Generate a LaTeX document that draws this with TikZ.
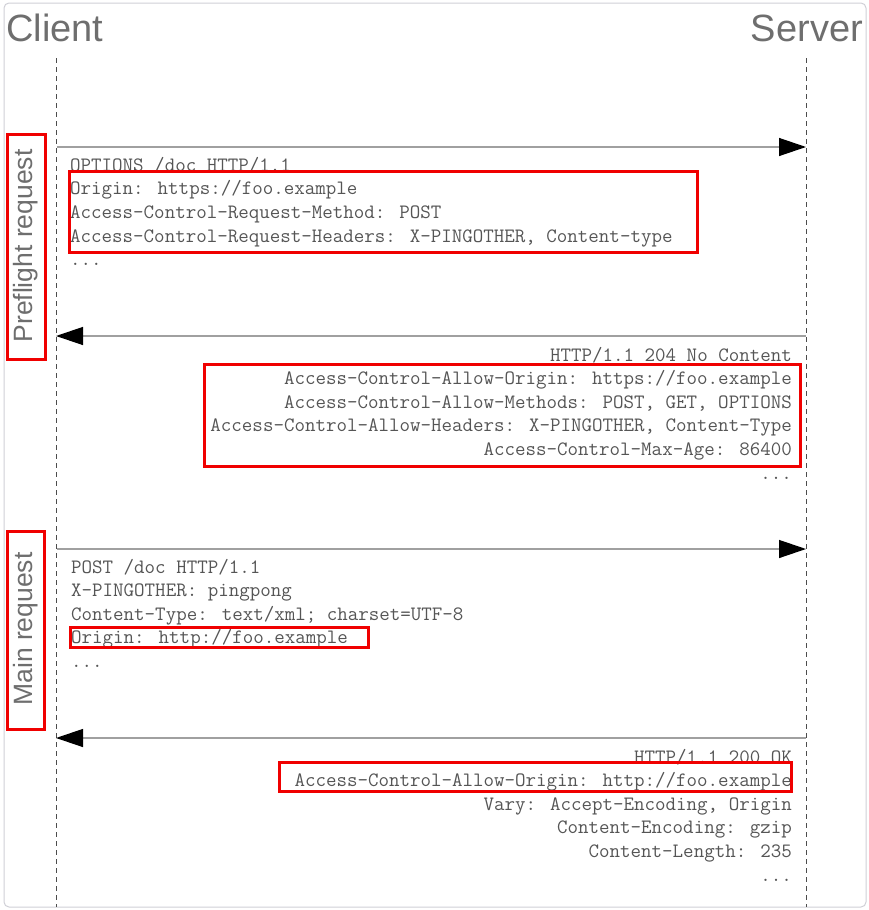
\documentclass[tikz,border=0pt]{standalone}
\usepackage{fontspec}
\newfontfamily\headfont{Liberation Sans}
\usetikzlibrary{arrows.meta}
\definecolor{headgray}{HTML}{6E6E6E}
\definecolor{txtgray}{HTML}{555555}
\definecolor{linegray}{HTML}{A0A0A0}
\definecolor{framegray}{HTML}{CFCFD6}
\definecolor{hlred}{HTML}{F00000}
\tikzset{
  head/.style={font=\headfont\fontsize{38}{40}\selectfont, text=headgray, inner sep=0pt},
  side/.style={font=\headfont\fontsize{26.5}{28}\selectfont, text=headgray, inner sep=0pt, rotate=90, anchor=base},
  mono/.style={font=\ttfamily\fontsize{20.4}{22}\selectfont, text=txtgray, inner sep=0pt},
  monol/.style={mono, anchor=base west},
  monor/.style={mono, anchor=base east},
  lifeline/.style={draw=black!70, line width=0.9pt, dash pattern=on 5pt off 4pt},
  msg/.style={draw=linegray, line width=1.3pt, -{Triangle[length=27pt,width=18pt,color=black]}},
  hl/.style={draw=hlred, line width=3pt},
}
\begin{document}
\begin{tikzpicture}[x=1pt,y=-1pt]
\useasboundingbox (0,0) rectangle (869,910);
\draw[framegray, line width=1pt, rounded corners=5pt] (4,3) rectangle (866,907);

\node[head, anchor=base west] (client) at (6,41) {Client};
\node[head, anchor=base east] (server) at (863,41) {Server};

\coordinate (ctop) at (56,58); \coordinate (cbot) at (56,907);
\coordinate (stop) at (806,58); \coordinate (sbot) at (806,907);
\draw[lifeline] (ctop) -- (cbot);
\draw[lifeline] (stop) -- (sbot);

% messages
\coordinate (c1) at (57,147); \coordinate (s1) at (806,147);
\coordinate (c2) at (56,336); \coordinate (s2) at (806,336);
\coordinate (c3) at (57,549); \coordinate (s3) at (806,549);
\coordinate (c4) at (56,738); \coordinate (s4) at (806,738);
\draw[msg] (c1) -- (s1);
\draw[msg] (s2) -- (c2);
\draw[msg] (c3) -- (s3);
\draw[msg] (s4) -- (c4);

% preflight request text
\node[monol] (pa1) at (70,171) {OPTIONS /doc HTTP/1.1};
\node[monol] (pa2) at (70,194.7) {Origin: https://foo.example};
\node[monol] (pa3) at (70,218.4) {Access-Control-Request-Method: POST};
\node[monol] (pa4) at (70,242.1) {Access-Control-Request-Headers: X-PINGOTHER, Content-type};
\node[monol] (pa5) at (70,265.8) {...};

% preflight response text
\node[monor] (pb1) at (792,361) {HTTP/1.1 204 No Content};
\node[monor] (pb2) at (792,384.6) {Access-Control-Allow-Origin: https://foo.example};
\node[monor] (pb3) at (792,408.2) {Access-Control-Allow-Methods: POST, GET, OPTIONS};
\node[monor] (pb4) at (792,431.8) {Access-Control-Allow-Headers: X-PINGOTHER, Content-Type};
\node[monor] (pb5) at (792,455.4) {Access-Control-Max-Age: 86400};
\node[monor] (pb6) at (792,479) {...};

% main request text
\node[monol] (ma1) at (71,573) {POST /doc HTTP/1.1};
\node[monol] (ma2) at (71,596.6) {X-PINGOTHER: pingpong};
\node[monol] (ma3) at (71,620.2) {Content-Type: text/xml; charset=UTF-8};
\node[monol] (ma4) at (71,643.8) {Origin: http://foo.example};
\node[monol] (ma5) at (71,667.4) {...};

% main response text
\node[monor] (mb1) at (792,763) {HTTP/1.1 200 OK};
\node[monor] (mb2) at (792,786.6) {Access-Control-Allow-Origin: http://foo.example};
\node[monor] (mb3) at (792,810.2) {Vary: Accept-Encoding, Origin};
\node[monor] (mb4) at (792,833.8) {Content-Encoding: gzip};
\node[monor] (mb5) at (792,857.4) {Content-Length: 235};
\node[monor] (mb6) at (792,881) {...};

% side labels
\node[side] (pre) at (32,246) {Preflight request};
\node[side] (main) at (32,629) {Main request};

% red highlight boxes
\draw[hl] (7,134) rectangle (45,359);
\draw[hl] (7,531) rectangle (44,729);
\draw[hl] (69,171) rectangle (697,252);
\draw[hl] (204,364) rectangle (800,466);
\draw[hl] (70,627) rectangle (368,647);
\draw[hl] (279,762) rectangle (791,791);
\end{tikzpicture}
\end{document}
